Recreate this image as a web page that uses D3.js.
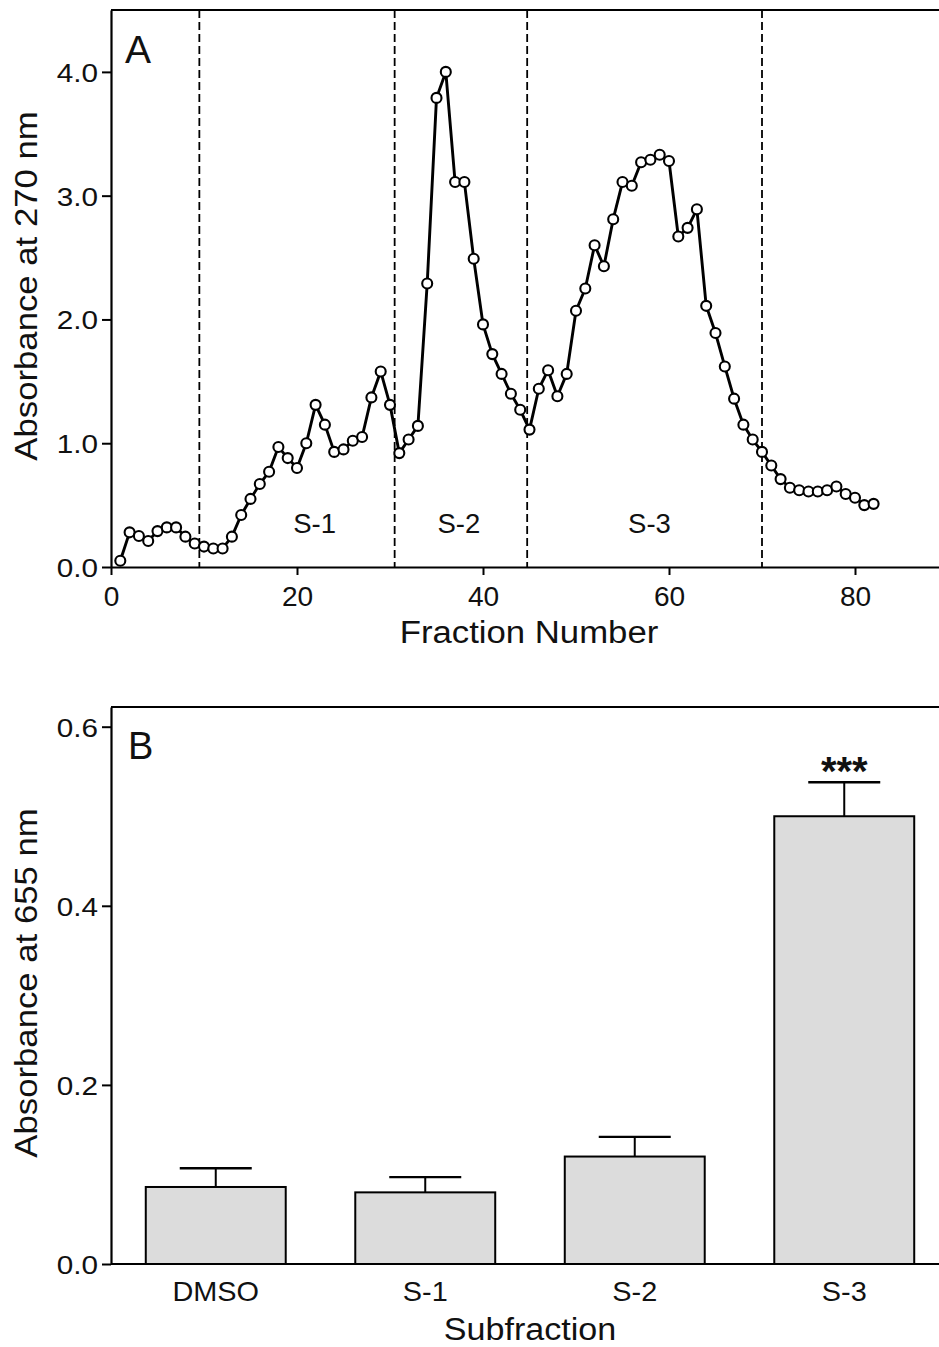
<!DOCTYPE html>
<html><head><meta charset="utf-8">
<script src="https://cdn.jsdelivr.net/npm/d3@7"></script>
<style>body{margin:0;background:#fff}svg{display:block;font-family:"Liberation Sans",Arial,sans-serif}</style>
</head><body>
<svg id="c" width="939" height="1347"></svg>
<script>
// Panel A data
const fractions = d3.range(1, 83);
const absorbance270 = [0.05,0.28,0.25,0.21,0.29,0.32,0.32,0.245,0.19,0.165,0.15,0.15,0.245,0.42,0.55,0.67,0.77,0.97,0.88,0.80,
1.00,1.31,1.15,0.93,0.95,1.02,1.05,1.37,1.58,1.31,0.92,1.03,1.14,2.29,3.79,4.00,3.11,3.11,2.49,1.96,
1.72,1.56,1.40,1.27,1.11,1.44,1.59,1.38,1.56,2.07,2.25,2.60,2.43,2.81,3.11,3.08,3.27,3.29,3.33,3.28,
2.67,2.74,2.89,2.11,1.89,1.62,1.36,1.15,1.03,0.93,0.82,0.71,0.64,0.62,0.61,0.61,0.62,0.65,0.59,0.56,0.50,0.51];
const dividers = [9.5, 30.5, 44.75, 70];
const regionLabels = ["S-1","S-2","S-3"];
const regionLabelX = [21.9, 37.4, 57.9];
const xTicksA = [0,20,40,60,80];
const yTicksA = [0,1,2,3,4];

// Panel B data
const subfractions = ["DMSO","S-1","S-2","S-3"];
const absorbance655 = [0.086,0.080,0.120,0.500];
const errors655 = [0.021,0.017,0.022,0.038];
const significance = ["","","","***"];
const yTicksB = [0,0.2,0.4,0.6];

const svg = d3.select("#c");
const L = 111, R = 948;
const INK = "#111";

function stretch(sel, f){
  sel.each(function(){
    const w = this.getComputedTextLength();
    this.setAttribute("textLength", w*f);
    this.setAttribute("lengthAdjust","spacingAndGlyphs");
  });
}

// ---------- Panel A ----------
const xA = d3.scaleLinear().domain([0,90]).range([L, L + 90*9.3]);
const yA = d3.scaleLinear().domain([0,4.5]).range([567, 10]);
const gA = svg.append("g");

gA.append("line").attr("x1",L).attr("x2",R+20).attr("y1",yA(4.5)).attr("y2",yA(4.5)).attr("stroke","#000").attr("stroke-width",2);

gA.selectAll("line.div").data(dividers).join("line").attr("class","div")
  .attr("x1",d=>xA(d)).attr("x2",d=>xA(d)).attr("y1",yA(4.5)).attr("y2",yA(0))
  .attr("stroke","#000").attr("stroke-width",1.8).attr("stroke-dasharray","8,4");

const axA = gA.append("g").attr("transform",`translate(0,${yA(0)})`)
  .call(d3.axisBottom(xA).tickValues(xTicksA).tickSize(8).tickSizeOuter(0).tickPadding(12));
const ayA = gA.append("g").attr("transform",`translate(${L},0)`)
  .call(d3.axisLeft(yA).tickValues(yTicksA).tickFormat(d3.format(".1f")).tickSize(9).tickSizeOuter(0).tickPadding(4));
[axA, ayA].forEach(a=>{
  a.select(".domain").attr("stroke-width",2.2);
  a.selectAll(".tick line").attr("stroke-width",2);
});
axA.selectAll("text").attr("font-size",27).attr("fill",INK).attr("font-family","Liberation Sans, Arial, sans-serif").call(stretch,1.04);
ayA.selectAll("text").attr("font-size",26.5).attr("fill",INK).attr("font-family","Liberation Sans, Arial, sans-serif").attr("dy","0.36em").call(stretch,1.12);

const line = d3.line().x((d,i)=>xA(fractions[i])).y(d=>yA(d));
gA.append("path").datum(absorbance270).attr("d",line).attr("fill","none").attr("stroke","#000").attr("stroke-width",2.9).attr("stroke-linejoin","round");
gA.selectAll("circle").data(absorbance270).join("circle")
  .attr("cx",(d,i)=>xA(fractions[i])).attr("cy",d=>yA(d)).attr("r",5)
  .attr("fill","#fff").attr("stroke","#000").attr("stroke-width",2.1);

gA.selectAll("text.reg").data(regionLabels).join("text").attr("class","reg")
  .attr("x",(d,i)=>xA(regionLabelX[i])).attr("y",533).attr("text-anchor","middle")
  .attr("font-size",27.5).attr("fill",INK).text(d=>d);
gA.append("text").attr("x",125).attr("y",63).attr("font-size",39).attr("fill",INK).text("A");
gA.append("text").attr("x",529).attr("y",643).attr("text-anchor","middle").attr("font-size",31).attr("fill",INK).text("Fraction Number").call(stretch,1.12);
gA.append("text").attr("transform",`translate(37,286) rotate(-90)`).attr("text-anchor","middle").attr("font-size",31).attr("fill",INK).text("Absorbance at 270 nm").call(stretch,1.12);

// ---------- Panel B ----------
const xB = d3.scaleBand().domain(subfractions).range([L, L + 4*209.5]).paddingInner(0.332).paddingOuter(0.166);
const yB = d3.scaleLinear().domain([0,0.622]).range([1264, 707]);
const gB = svg.append("g");
gB.append("line").attr("x1",L).attr("x2",R+20).attr("y1",707).attr("y2",707).attr("stroke","#000").attr("stroke-width",2);

gB.selectAll("line.err").data(subfractions).join("line").attr("class","err")
  .attr("x1",d=>xB(d)+xB.bandwidth()/2).attr("x2",d=>xB(d)+xB.bandwidth()/2)
  .attr("y1",(d,i)=>yB(absorbance655[i])).attr("y2",(d,i)=>yB(absorbance655[i]+errors655[i]))
  .attr("stroke","#000").attr("stroke-width",2);
gB.selectAll("line.cap").data(subfractions).join("line").attr("class","cap")
  .attr("x1",d=>xB(d)+xB.bandwidth()/2-36).attr("x2",d=>xB(d)+xB.bandwidth()/2+36)
  .attr("y1",(d,i)=>yB(absorbance655[i]+errors655[i])).attr("y2",(d,i)=>yB(absorbance655[i]+errors655[i]))
  .attr("stroke","#000").attr("stroke-width",2.4);
gB.selectAll("rect.bar").data(subfractions).join("rect").attr("class","bar")
  .attr("x",d=>xB(d)).attr("width",xB.bandwidth())
  .attr("y",(d,i)=>yB(absorbance655[i])).attr("height",(d,i)=>yB(0)-yB(absorbance655[i]))
  .attr("fill","#dcdcdc").attr("stroke","#000").attr("stroke-width",2);
gB.selectAll("text.sig").data(subfractions).join("text").attr("class","sig")
  .attr("x",d=>xB(d)+xB.bandwidth()/2).attr("y",(d,i)=>yB(absorbance655[i]+errors655[i])+3)
  .attr("text-anchor","middle").attr("font-size",40).attr("font-weight","bold").attr("fill",INK)
  .text((d,i)=>significance[i]);

const axB = gB.append("g").attr("transform",`translate(0,${yB(0)})`)
  .call(d3.axisBottom(xB).tickSize(0).tickPadding(17));
const ayB = gB.append("g").attr("transform",`translate(${L},0)`)
  .call(d3.axisLeft(yB).tickValues(yTicksB).tickFormat(d3.format(".1f")).tickSize(9).tickSizeOuter(0).tickPadding(4));
axB.select(".domain").attr("d",`M${L},0H${R+20}`);
axB.select(".domain").attr("stroke-width",2.2);
axB.selectAll("text").attr("font-size",27.5).attr("fill",INK).attr("font-family","Liberation Sans, Arial, sans-serif").call(stretch,1.05);
ayB.select(".domain").attr("stroke-width",2.2);
ayB.selectAll(".tick line").attr("stroke-width",2);
ayB.selectAll("text").attr("font-size",26.5).attr("fill",INK).attr("font-family","Liberation Sans, Arial, sans-serif").attr("dy","0.36em").call(stretch,1.12);

gB.append("text").attr("x",128).attr("y",759).attr("font-size",38).attr("fill",INK).text("B");
gB.append("text").attr("x",530).attr("y",1340).attr("text-anchor","middle").attr("font-size",31).attr("fill",INK).text("Subfraction").call(stretch,1.1);
gB.append("text").attr("transform",`translate(37,983) rotate(-90)`).attr("text-anchor","middle").attr("font-size",31).attr("fill",INK).text("Absorbance at 655 nm").call(stretch,1.12);
</script>
</body></html>
